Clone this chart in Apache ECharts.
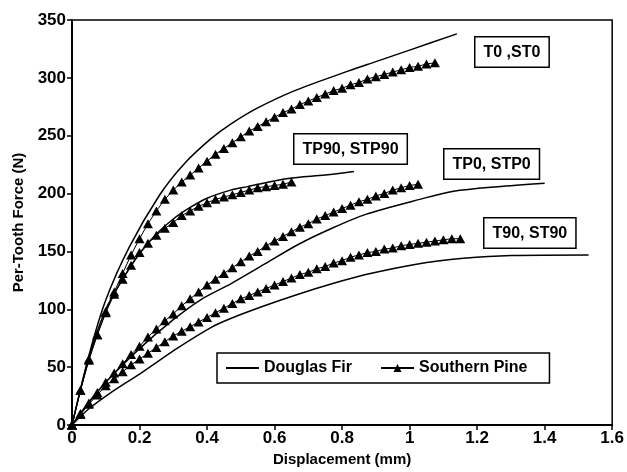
<!DOCTYPE html>
<html>
<head>
<meta charset="utf-8">
<script src="https://cdn.jsdelivr.net/npm/echarts@6/dist/echarts.min.js"></script>
<style>
  html, body { margin: 0; padding: 0; background: #fff; }
  #graphics { width: 627px; height: 472px; }
</style>
</head>
<body>
<div id="graphics"></div>
<script>
// displacement steps of the Southern Pine readings (mm)
var spX = [0, 0.025, 0.05, 0.075, 0.1, 0.125, 0.15, 0.175, 0.2, 0.225, 0.25, 0.275, 0.3, 0.325, 0.35, 0.375,
  0.4, 0.425, 0.45, 0.475, 0.5, 0.525, 0.55, 0.575, 0.6, 0.625, 0.65, 0.675, 0.7, 0.725, 0.75, 0.775,
  0.8, 0.825, 0.85, 0.875, 0.9, 0.925, 0.95, 0.975, 1, 1.025, 1.05, 1.075, 1.1, 1.125, 1.15];

// Southern Pine force (N)
var spT0 = [0, 30, 57, 78, 98, 115, 131, 147, 161, 174, 185, 195, 203, 210, 216, 222, 228, 234, 239, 244,
  249, 254, 258, 262, 266, 270, 273, 277, 280, 283, 286, 289, 291, 294, 296, 299, 301, 303, 305, 307, 309, 310, 312, 313];
var spTP90 = [0, 30, 56, 78, 97, 113, 126, 138, 149, 157, 164, 170, 175, 181, 185, 189, 192, 195, 197, 199,
  201, 203, 205, 206, 207, 208, 210];
var spTP0 = [0, 10, 19, 28, 37, 45, 53, 61, 68, 76, 83, 90, 96, 103, 109, 115, 121, 126, 131, 136,
  141, 146, 150, 155, 159, 163, 167, 171, 174, 178, 181, 184, 187, 190, 193, 195, 198, 200, 203, 205, 207, 208];
var spT90 = [0, 9, 18, 26, 34, 40, 46, 52, 57, 62, 67, 72, 77, 81, 85, 89, 93, 97, 101, 105,
  109, 112, 115, 118, 121, 124, 127, 130, 132, 135, 137, 140, 142, 145, 147, 149, 150, 152, 153, 155,
  156, 157, 158, 159, 160, 161, 161];

// Douglas Fir curves [displacement, force]
var dfT0 = [[0, 0], [0.05, 60], [0.1, 108], [0.17, 154], [0.26, 199], [0.33, 225], [0.41, 247], [0.47, 260],
  [0.55, 274], [0.66, 289], [0.82, 306], [0.9, 314], [1.0, 324], [1.14, 338]];
var dfTP90 = [[0, 0], [0.05, 58], [0.1, 100], [0.15, 126], [0.2, 148], [0.25, 165], [0.3, 178], [0.35, 188],
  [0.4, 196], [0.47, 203], [0.52, 206], [0.64, 213], [0.75, 216], [0.835, 219]];
var dfTP0 = [[0, 0], [0.05, 20], [0.1, 37], [0.2, 66], [0.3, 91], [0.38, 108], [0.47, 122], [0.57, 139],
  [0.67, 156], [0.77, 170], [0.87, 182], [1.03, 195], [1.13, 202], [1.26, 206], [1.4, 209]];
var dfT90 = [[0, 0], [0.05, 14], [0.11, 27], [0.21, 46], [0.31, 66], [0.41, 84], [0.47, 92], [0.57, 103],
  [0.67, 113], [0.77, 122], [0.87, 130], [1.02, 139], [1.16, 144], [1.3, 146.5], [1.53, 147]];

var xTicks = [0, 0.2, 0.4, 0.6, 0.8, 1, 1.2, 1.4, 1.6];
var yTicks = [0, 50, 100, 150, 200, 250, 300, 350];
var curveLabels = ['T0 ,ST0', 'TP90, STP90', 'TP0, STP0', 'T90, ST90'];

var font = 'Liberation Sans, Arial, sans-serif';

function pine(ys) {
  return {
    name: 'Southern Pine',
    type: 'line',
    data: ys.map(function (y, i) { return [spX[i], y]; }),
    symbol: 'triangle',
    symbolSize: [10, 9],
    lineStyle: { color: '#000', width: 1 },
    itemStyle: { color: '#000' },
    animation: false
  };
}
function fir(pts) {
  return {
    name: 'Douglas Fir',
    type: 'line',
    data: pts,
    symbol: 'none',
    smooth: 0.3,
    lineStyle: { color: '#000', width: 1.5 },
    itemStyle: { color: '#000' },
    animation: false
  };
}

function box(text, left, top) {
  return {
    type: 'text',
    left: left,
    top: top,
    style: {
      text: text,
      font: 'bold 16px ' + font,
      fill: '#000',
      backgroundColor: '#fff',
      borderColor: '#000',
      borderWidth: 1.5,
      padding: [7, 8, 6, 8]
    }
  };
}

var myChart = echarts.init(document.getElementById('graphics'));

var option = {
  backgroundColor: '#fff',
  grid: {
    left: 72, right: 12, top: 20, bottom: 42,
    show: true, borderColor: '#000', borderWidth: 1.5
  },
  legend: {
    data: [
      { name: 'Douglas Fir', itemStyle: { opacity: 0 } },
      'Southern Pine'
    ],
    left: 217, top: 353,
    itemWidth: 33, itemHeight: 10, itemGap: 28,
    padding: [7, 22, 7, 8],
    borderColor: '#000', borderWidth: 1.5,
    backgroundColor: '#fff',
    textStyle: { fontFamily: font, fontSize: 16, fontWeight: 'bold', color: '#000' }
  },
  xAxis: {
    type: 'value',
    min: 0, max: 1.6, interval: 0.2,
    name: 'Displacement (mm)',
    nameLocation: 'middle', nameGap: 27,
    nameTextStyle: { fontFamily: font, fontSize: 15, fontWeight: 'bold', color: '#000' },
    axisLine: { lineStyle: { color: '#000', width: 2 } },
    axisTick: { show: true, length: 5, lineStyle: { color: '#000', width: 1.5 } },
    axisLabel: {
      margin: 5, color: '#000', fontFamily: font, fontSize: 17, fontWeight: 'bold',
      formatter: function (v) { return xTicks.indexOf(+v.toFixed(1)) >= 0 ? String(+v.toFixed(1)) : ''; }
    },
    splitLine: { show: false }
  },
  yAxis: {
    type: 'value',
    min: 0, max: 350, interval: 50,
    name: 'Per-Tooth Force (N)',
    nameLocation: 'middle', nameGap: 42,
    nameTextStyle: { fontFamily: font, fontSize: 15, fontWeight: 'bold', color: '#000' },
    axisLine: { show: true, lineStyle: { color: '#000', width: 2 } },
    axisTick: { show: true, length: 5, lineStyle: { color: '#000', width: 1.5 } },
    axisLabel: {
      margin: 6, color: '#000', fontFamily: font, fontSize: 17, fontWeight: 'bold',
      formatter: function (v) { return yTicks.indexOf(v) >= 0 ? String(v) : ''; }
    },
    splitLine: { show: false }
  },
  graphic: [
    box(curveLabels[0], 474, 36),
    box(curveLabels[1], 293, 133),
    box(curveLabels[2], 443, 148),
    box(curveLabels[3], 483, 217)
  ],
  series: [
    fir(dfT0), fir(dfTP90), fir(dfTP0), fir(dfT90),
    pine(spT0), pine(spTP90), pine(spTP0), pine(spT90)
  ]
};

myChart.setOption(option);
</script>
</body>
</html>
